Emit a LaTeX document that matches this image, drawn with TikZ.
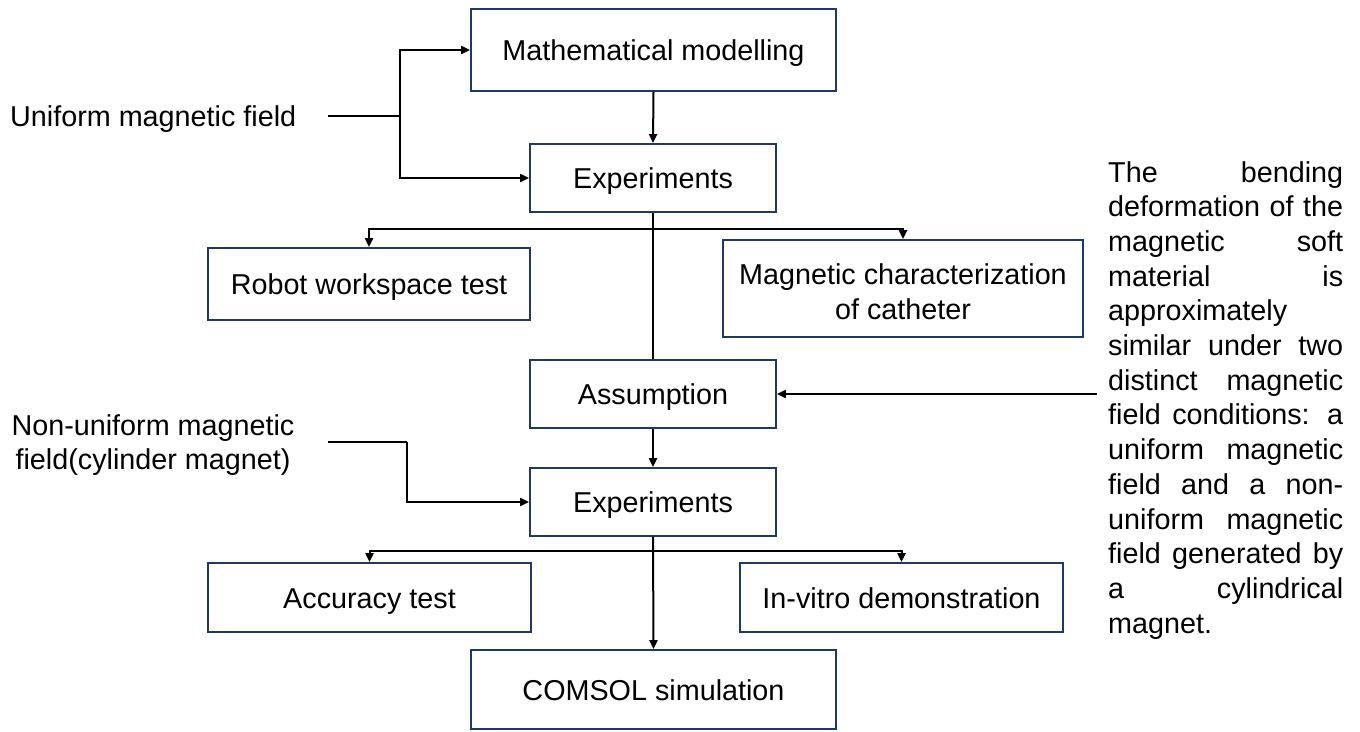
\documentclass[tikz,border=0pt]{standalone}
\usepackage{fontspec}
\setmainfont{Liberation Sans}
\usetikzlibrary{arrows.meta}
\definecolor{boxnavy}{HTML}{203864}
\tikzset{
  flowbox/.style={draw=boxnavy, line width=1.8pt, fill=white, inner sep=0pt, align=center, text height=23pt, text depth=2pt},
  conn/.style={line width=2pt, draw=black},
  connarr/.style={conn, -{Triangle[length=9pt,width=8pt]}},
  lbl/.style={inner sep=0pt}
}
\begin{document}
\begin{tikzpicture}[x=1pt, y=-1pt, every node/.style={font=\fontsize{28.75}{34.7}\selectfont}]
\useasboundingbox (0,0) rectangle (1360,731);

% boxes
\node[flowbox, minimum width=365pt, minimum height=82pt] (mm) at (653.5,50) {Mathematical modelling};
\node[flowbox, minimum width=246pt, minimum height=68pt] (exp1) at (653,178) {Experiments};
\node[flowbox, minimum width=322pt, minimum height=72pt] (robot) at (369,284) {Robot workspace test};
\node[flowbox, minimum width=360pt, minimum height=97pt, text height=62pt, text depth=0pt] (magc) at (903,288.5) {Magnetic characterization\\of catheter};
\node[flowbox, minimum width=246pt, minimum height=68pt] (assump) at (653,394) {Assumption};
\node[flowbox, minimum width=246pt, minimum height=68pt] (exp2) at (653,502) {Experiments};
\node[flowbox, minimum width=323pt, minimum height=69pt] (acc) at (369.5,597.5) {Accuracy test};
\node[flowbox, minimum width=323pt, minimum height=69pt] (invitro) at (901.5,597.5) {In-vitro demonstration};
\node[flowbox, minimum width=365pt, minimum height=79pt] (comsol) at (653.5,689.5) {COMSOL simulation};

% side texts
\node[lbl, anchor=west] (uni) at (10,119) {Uniform magnetic field};
\node[lbl, align=center] (nonuni) at (153,445) {Non-uniform magnetic\\field(cylinder magnet)};
\node[lbl, anchor=north west, align=left] (note) at (1108,161) {%
\makebox[235pt][s]{The bending}\\
\makebox[235pt][s]{deformation of the}\\
\makebox[235pt][s]{magnetic soft}\\
\makebox[235pt][s]{material is}\\
approximately\\
\makebox[235pt][s]{similar under two}\\
\makebox[235pt][s]{distinct magnetic}\\
\makebox[235pt][s]{field conditions: a}\\
\makebox[235pt][s]{uniform magnetic}\\
\makebox[235pt][s]{field and a non-}\\
\makebox[235pt][s]{uniform magnetic}\\
\makebox[235pt][s]{field generated by}\\
\makebox[235pt][s]{a cylindrical}\\
magnet.};

% helper coordinates
\coordinate (ustart) at (328,116);
\coordinate (ubr) at (400,116);
\coordinate (s1) at (653,229);
\coordinate (s2) at (653,551);
\coordinate (nstart) at (328,442);
\coordinate (nbr) at (407,442);
\coordinate (rstart) at (1097,394);

% connectors
\draw[conn] (ustart) -- (ubr);
\draw[connarr] (ubr) |- (mm.west);
\draw[connarr] (ubr) |- (exp1.west);
\draw[connarr] (mm.south) -- (exp1.north);
\draw[conn] (exp1.south) -- (assump.north);
\draw[connarr] (s1) -| (robot.north);
\draw[connarr] (s1) -| (magc.north);
\draw[connarr] (assump.south) -- (exp2.north);
\draw[connarr] (rstart) -- (assump.east);
\draw[conn] (nstart) -- (nbr);
\draw[connarr] (nbr) |- (exp2.west);
\draw[connarr] (exp2.south) -- (comsol.north);
\draw[connarr] (s2) -| (acc.north);
\draw[connarr] (s2) -| (invitro.north);
\end{tikzpicture}
\end{document}
